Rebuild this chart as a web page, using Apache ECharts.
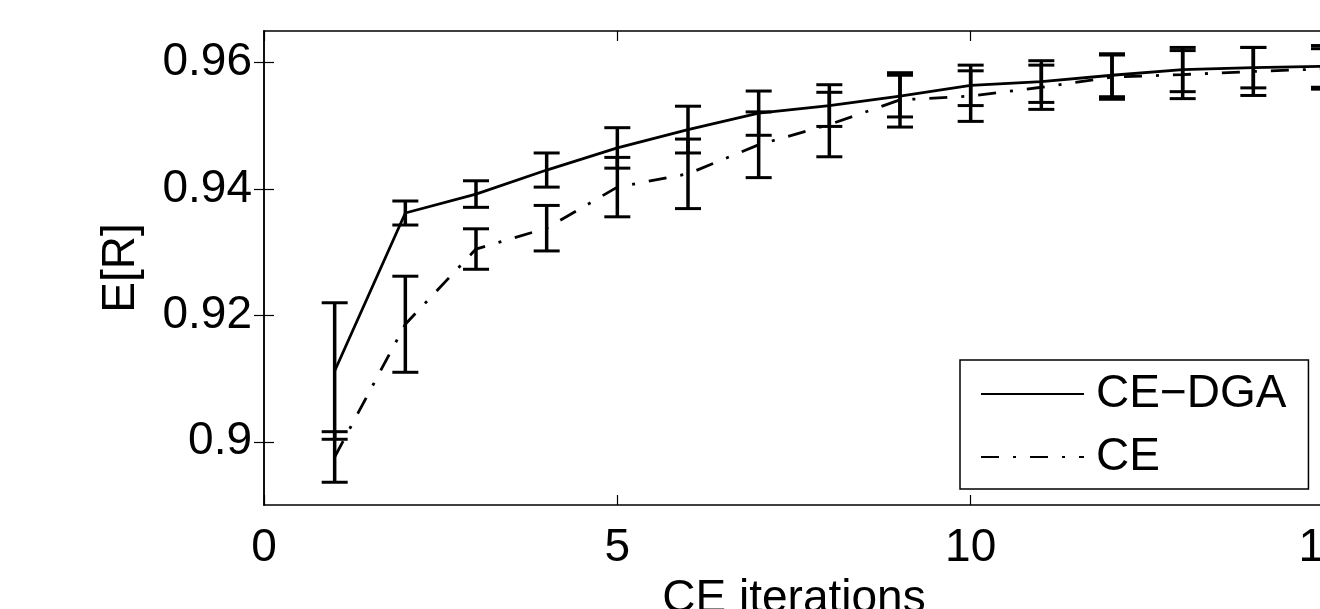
<!DOCTYPE html>
<html>
<head>
<meta charset="utf-8">
<script src="https://cdn.jsdelivr.net/npm/echarts@6/dist/echarts.min.js"></script>
<style>
  html, body { margin: 0; padding: 0; background: #fff; }
  #chart { width: 1320px; height: 609px; }
</style>
</head>
<body>
<div id="chart"></div>
<script>
// values
const iterations = [1, 2, 3, 4, 5, 6, 7, 8, 9, 10, 11, 12, 13, 14, 15];
const dgaMean = [0.9112, 0.9362, 0.9392, 0.9430, 0.9465, 0.9494, 0.9520, 0.9532, 0.9547, 0.9564, 0.9570, 0.9580, 0.9589, 0.9592, 0.9594];
const dgaErr = [0.0108, 0.0019, 0.0021, 0.0027, 0.0032, 0.0037, 0.0035, 0.0033, 0.0033, 0.0032, 0.0033, 0.0034, 0.0035, 0.0032, 0.0033];
const ceMean = [0.8976, 0.9186, 0.9305, 0.9338, 0.9403, 0.9424, 0.9470, 0.9502, 0.9541, 0.9547, 0.9561, 0.9577, 0.9581, 0.9586, 0.9590];
const ceErr = [0.0040, 0.0076, 0.0032, 0.0036, 0.0047, 0.0055, 0.0052, 0.0051, 0.0043, 0.0040, 0.0035, 0.0035, 0.0038, 0.0038, 0.0032];
const yTicks = [0.90, 0.92, 0.94, 0.96];

const font = "'Liberation Sans', Arial, sans-serif";
const chart = echarts.init(document.getElementById('chart'));

// error bar: vertical line plus two caps
const errRender = (params, api) => {
  const x = api.value(0);
  const lo = api.coord([x, api.value(1)]);
  const hi = api.coord([x, api.value(2)]);
  const hw = 13;
  return {
    type: 'group',
    children: [
      { type: 'line', shape: { x1: lo[0], y1: lo[1], x2: hi[0], y2: hi[1] }, style: { stroke: '#000', lineWidth: 3.5 } },
      { type: 'line', shape: { x1: hi[0] - hw, y1: hi[1], x2: hi[0] + hw, y2: hi[1] }, style: { stroke: '#000', lineWidth: 3 } },
      { type: 'line', shape: { x1: lo[0] - hw, y1: lo[1], x2: lo[0] + hw, y2: lo[1] }, style: { stroke: '#000', lineWidth: 3 } }
    ]
  };
};

const pairs = (mean) => iterations.map((x, i) => [x, mean[i]]);
const bars = (mean, err) => iterations.map((x, i) => [x, mean[i] - err[i], mean[i] + err[i]]);

const axisLine = { show: true, lineStyle: { color: '#000', width: 1.5 } };
const tick = { show: true, inside: true, length: 10, lineStyle: { color: '#000', width: 1.2 } };

const option = {
  animation: false,
  backgroundColor: '#fff',
  textStyle: { fontFamily: font },
  grid: { left: 264, top: 31, width: 1060, height: 474, outerBoundsMode: 'none', containLabel: false },
  legend: {
    data: ['CE\u2212DGA', 'CE'],
    orient: 'vertical',
    left: 960,
    top: 360,
    padding: [11, 22, 9, 20],
    itemGap: 17,
    itemWidth: 103,
    itemHeight: 20,
    borderColor: '#000',
    borderWidth: 1.5,
    backgroundColor: '#fff',
    itemStyle: { opacity: 0 },
    textStyle: { fontSize: 46, color: '#000', fontFamily: font, padding: [0, 0, 0, 7] }
  },
  xAxis: [
    {
      type: 'value', min: 0, max: 15, interval: 5,
      axisLine: axisLine, axisTick: tick, splitLine: { show: false },
      axisLabel: { fontSize: 46, color: '#000', margin: 20, fontFamily: font },
      name: 'CE iterations', nameLocation: 'middle', nameGap: 65,
      nameTextStyle: { fontSize: 46, color: '#000', fontFamily: font }
    },
    {
      type: 'value', min: 0, max: 15, interval: 5, position: 'top',
      axisLine: axisLine, axisTick: tick, splitLine: { show: false },
      axisLabel: { show: false }
    }
  ],
  yAxis: [
    {
      type: 'value', min: 0.89, max: 0.965,
      axisLine: axisLine, splitLine: { show: false },
      axisTick: Object.assign({ customValues: yTicks }, tick),
      axisLabel: {
        customValues: yTicks, fontSize: 46, color: '#000', margin: 12, fontFamily: font,
        formatter: (v) => String(+v.toFixed(2))
      },
      name: 'E[R]', nameLocation: 'middle', nameGap: 120, nameRotate: 90,
      nameTextStyle: { fontSize: 46, color: '#000', fontFamily: font }
    },
    {
      type: 'value', min: 0.89, max: 0.965, position: 'right',
      axisLine: axisLine, splitLine: { show: false },
      axisTick: Object.assign({ customValues: yTicks }, tick),
      axisLabel: { show: false }
    }
  ],
  series: [
    {
      name: 'CE\u2212DGA', type: 'line', data: pairs(dgaMean), showSymbol: false, symbol: 'none',
      lineStyle: { color: '#000', width: 2.8, type: 'solid' }, itemStyle: { color: '#000' }, z: 3
    },
    {
      name: 'CE', type: 'line', data: pairs(ceMean), showSymbol: false, symbol: 'none',
      lineStyle: { color: '#000', width: 2.8, type: [18, 14, 3, 14] }, itemStyle: { color: '#000' }, z: 3
    },
    { name: 'dga err', type: 'custom', renderItem: errRender, data: bars(dgaMean, dgaErr), z: 2 },
    { name: 'ce err', type: 'custom', renderItem: errRender, data: bars(ceMean, ceErr), z: 2 }
  ]
};

chart.setOption(option);
</script>
</body>
</html>
